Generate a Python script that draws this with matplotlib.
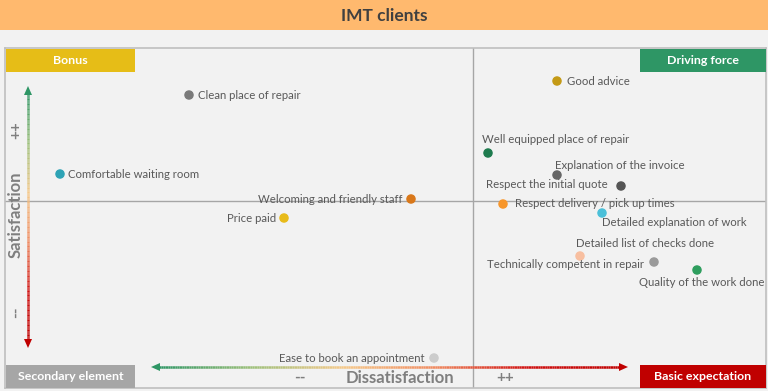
import matplotlib.pyplot as plt
import numpy as np
from matplotlib.collections import LineCollection
from matplotlib.colors import LinearSegmentedColormap
from matplotlib.patches import Rectangle, Polygon

plt.rcParams['font.family'] = ['Lato', 'DejaVu Sans']

# data: dissatisfaction (x) vs satisfaction (y), midlines at 0
labels = ['Clean place of repair', 'Comfortable waiting room',
          'Welcoming and friendly staff', 'Price paid',
          'Ease to book an appointment', 'Good advice',
          'Well equipped place of repair', 'Explanation of the invoice',
          'Respect the initial quote', 'Respect delivery / pick up times',
          'Detailed explanation of work', 'Detailed list of checks done',
          'Technically competent in repair', 'Quality of the work done']
dissatisfaction = [-2.84, -4.13, -0.62, -1.89, -0.39, 0.84, 0.15, 0.84,
                   1.48, 0.30, 1.29, 1.07, 1.81, 2.24]
satisfaction = [1.06, 0.27, 0.02, -0.17, -1.57, 1.20, 0.48, 0.26,
                0.15, -0.03, -0.12, -0.55, -0.61, -0.69]
colors = ['#7a7a7a', '#2ea3b5', '#d9781a', '#e8bb1a', '#cccccc', '#c49a16',
          '#1e7b4e', '#666666', '#555555', '#f7962b', '#4bc0d9', '#f8bfa0',
          '#9a9a9a', '#2e9e5e']
# label offsets in pixels and alignment
offsets = [(9, 0, 'left'), (8, 0, 'left'), (-9, 0, 'right'), (-8, 0, 'right'),
           (-9, 0, 'right'), (10, 0, 'left'), (-6, 14, 'left'),
           (-2, 10, 'left'), (-13, 2, 'right'), (12, 1, 'left'),
           (0, -9, 'left'), (-4, 13, 'left'), (-10, -3, 'right'),
           (-58, -13, 'left')]

quadrants = ['Bonus', 'Driving force', 'Secondary element', 'Basic expectation']
quad_colors = ['#e6bd17', '#2e9665', '#a6a6a6', '#c00000']

W, H = 768, 391
fig = plt.figure(figsize=(W / 100, H / 100), dpi=100)
fig.patch.set_facecolor('#f2f2f2')


def fx(px):
    return px / W


def fy(py):
    return 1 - py / H


# title bar
fig.patches.append(Rectangle((0, fy(30)), 1, 30 / H, transform=fig.transFigure,
                             facecolor='#ffb96e', edgecolor='none'))
fig.text(0.5, fy(16), 'IMT clients', ha='center', va='center', fontsize=12.5,
         fontweight='bold', color='#404040')

ax = fig.add_axes([fx(5), fy(388), 761 / W, 340 / H])
ax.set_facecolor('#f2f2f2')
ax.set_xlim(-4.68, 2.93)
ax.set_ylim(-1.87, 1.53)
ax.set_xticks([])
ax.set_yticks([])
for s in ax.spines.values():
    s.set_color('#bfbfbf')
    s.set_linewidth(1.2)
ax.axvline(0, color='#a6a6a6', lw=1)
ax.axhline(0, color='#a6a6a6', lw=1)

ax.scatter(dissatisfaction, satisfaction, s=34, c=colors, zorder=3)
for i, lab in enumerate(labels):
    dx, dy, ha = offsets[i]
    ax.annotate(lab, (dissatisfaction[i], satisfaction[i]), xytext=(dx, dy),
                textcoords='offset pixels', ha=ha, va='center', fontsize=8.2,
                color='#595959')

# quadrant boxes
boxes = [(6, 49, 129), (640, 49, 126), (6, 365, 129), (640, 365, 126)]
for (bx, by, bw), name, c in zip(boxes, quadrants, quad_colors):
    fig.patches.append(Rectangle((fx(bx), fy(by + 23)), bw / W, 23 / H,
                                 transform=fig.transFigure, facecolor=c,
                                 edgecolor='none', zorder=5))
    fig.text(fx(bx + bw / 2), fy(by + 12), name, ha='center', va='center',
             fontsize=8.9, fontweight='bold', color='white', zorder=6)

# gradient arrows
cmap = LinearSegmentedColormap.from_list(
    'g2r', ['#2e9665', '#9cc07a', '#f5c98a', '#f08a60', '#d01010', '#c00000'])
n = 200
vy = np.linspace(fy(92), fy(342), n)
vx = np.full(n, fx(28))
pts = np.array([vx, vy]).T.reshape(-1, 1, 2)
lc = LineCollection(np.concatenate([pts[:-1], pts[1:]], axis=1),
                    cmap=cmap, transform=fig.transFigure, linewidth=1.8)
lc.set_array(np.linspace(0, 1, n - 1))
fig.add_artist(lc)
hx = np.linspace(fx(156), fx(622), n)
hy = np.full(n, fy(367))
pts = np.array([hx, hy]).T.reshape(-1, 1, 2)
lc2 = LineCollection(np.concatenate([pts[:-1], pts[1:]], axis=1),
                     cmap=cmap, transform=fig.transFigure, linewidth=1.8)
lc2.set_array(np.linspace(0, 1, n - 1))
fig.add_artist(lc2)


def head(tip, direction, color):
    x, y = tip
    if direction == 'up':
        p = [(x, y), (x - 4, y + 9), (x + 4, y + 9)]
    elif direction == 'down':
        p = [(x, y), (x - 4, y - 9), (x + 4, y - 9)]
    elif direction == 'left':
        p = [(x, y), (x + 9, y - 4), (x + 9, y + 4)]
    else:
        p = [(x, y), (x - 9, y - 4), (x - 9, y + 4)]
    fig.patches.append(Polygon([(fx(a), fy(b)) for a, b in p], closed=True,
                               transform=fig.transFigure, facecolor=color,
                               edgecolor='none'))


head((28, 86), 'up', '#2e9665')
head((28, 348), 'down', '#c00000')
head((151, 367), 'left', '#2e9665')
head((628, 367), 'right', '#c00000')

# axis titles
fig.text(fx(16), fy(215), 'Satisfaction', rotation=90, ha='center',
         va='center', fontsize=12, fontweight='bold', color='#7f7f7f')
fig.text(fx(16), fy(130), '++', rotation=90, ha='center', va='center',
         fontsize=11, fontweight='bold', color='#7f7f7f')
fig.text(fx(16), fy(312), '--', rotation=90, ha='center', va='center',
         fontsize=11, fontweight='bold', color='#7f7f7f')
fig.text(fx(400), fy(378), 'Dissatisfaction', ha='center', va='center',
         fontsize=12, fontweight='bold', color='#7f7f7f')
fig.text(fx(300), fy(378), '--', ha='center', va='center', fontsize=11,
         fontweight='bold', color='#7f7f7f')
fig.text(fx(505), fy(378), '++', ha='center', va='center', fontsize=11,
         fontweight='bold', color='#7f7f7f')

fig.savefig('out.png', dpi=100, facecolor=fig.get_facecolor())
